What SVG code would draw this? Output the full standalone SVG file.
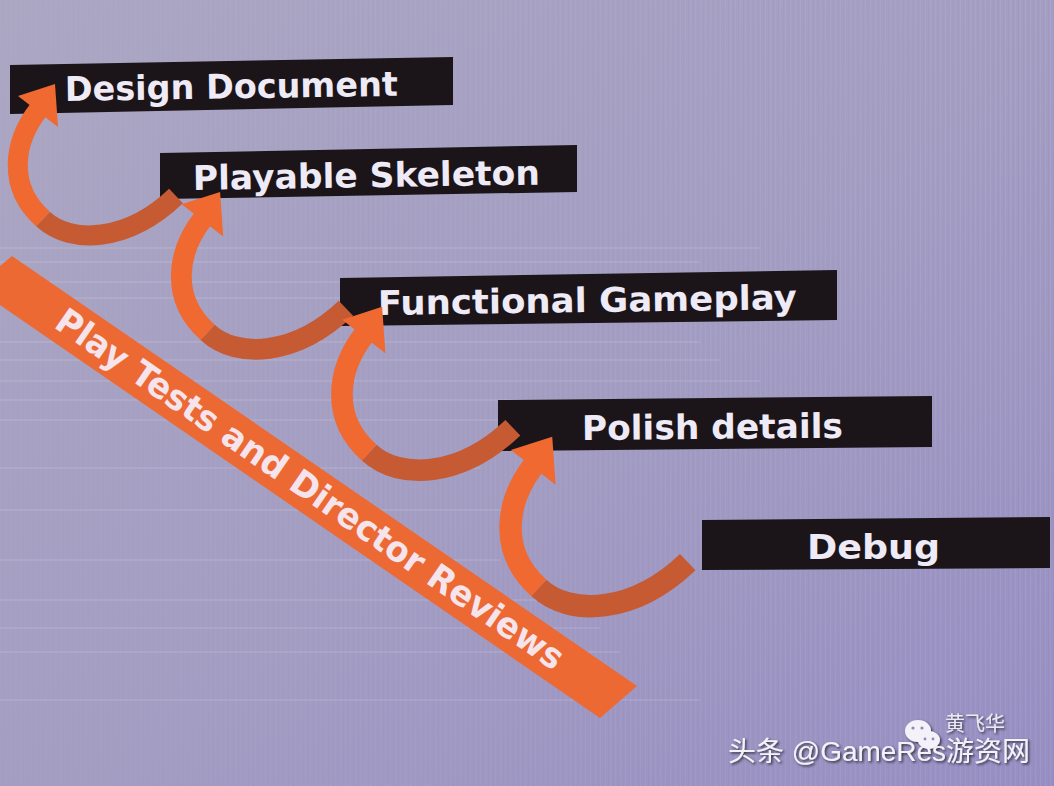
<svg xmlns="http://www.w3.org/2000/svg" xmlns:xlink="http://www.w3.org/1999/xlink" width="1054" height="786" viewBox="0 0 1054 786">
  <defs>
    <linearGradient id="bg" x1="0" y1="0" x2="1" y2="1">
      <stop offset="0" stop-color="#aba7c3"/>
      <stop offset="0.55" stop-color="#a39dc3"/>
      <stop offset="1" stop-color="#978fc3"/>
    </linearGradient>
    <pattern id="vlines" width="5" height="40" patternUnits="userSpaceOnUse">
      <rect x="0" y="0" width="1" height="40" fill="#ffffff" opacity="0.06"/>
      <rect x="3" y="0" width="1" height="40" fill="#4a4280" opacity="0.04"/>
    </pattern>
    <linearGradient id="texfade" x1="0" y1="0" x2="1" y2="0">
      <stop offset="0" stop-color="#fff" stop-opacity="0.2"/>
      <stop offset="1" stop-color="#fff" stop-opacity="1"/>
    </linearGradient>
    <mask id="texmask">
      <rect x="0" y="0" width="1054" height="786" fill="url(#texfade)"/>
    </mask>
    <filter id="shadow" x="-10%" y="-30%" width="120%" height="160%">
      <feDropShadow dx="1.5" dy="1.5" stdDeviation="0.8" flood-color="#1d1a2a" flood-opacity="0.85"/>
    </filter>
    <g id="arrow">
      <path class="dark" d="M-10,132 C18,158 75,155 123,109"/>
      <path class="bright" d="M-14,22 C-40,55 -46,100 -10,132"/>
      <polygon class="head" points="2,-3 -35,9 5,40"/>
    </g>
  </defs>
  <style>
    .box { fill: #1b1519; }
    .label { font-family: "DejaVu Sans", "Liberation Sans", sans-serif; font-weight: 700; font-size: 34px; fill: #eeeaf6; }
    .dark { fill: none; stroke: #c65a33; stroke-width: 20; }
    .bright { fill: none; stroke: #ef6931; stroke-width: 20; }
    .head { fill: #ef6931; }
    .scan { stroke: #ffffff; stroke-width: 2; opacity: 0.09; }
    .banner { fill: #ec6934; }
    .bannertext { font-family: "DejaVu Sans", "Liberation Sans", sans-serif; font-weight: 700; font-size: 35px; fill: #f5e4ec; }
    .wm { font-family: "Liberation Sans", "Noto Sans CJK SC", sans-serif; font-size: 27px; fill: #f4f2f8; }
    .wm2 { font-family: "Noto Sans CJK SC", sans-serif; font-size: 20px; fill: #f4f2f8; opacity: 0.9; }
  </style>

  <!-- background -->
  <rect x="0" y="0" width="1054" height="786" fill="url(#bg)"/>
  <rect x="0" y="0" width="1054" height="786" fill="url(#vlines)" mask="url(#texmask)"/>
  <g id="scanlines">
    <line class="scan" x1="0" y1="248" x2="760" y2="248"/>
    <line class="scan" x1="0" y1="262" x2="700" y2="262"/>
    <line class="scan" x1="0" y1="282" x2="640" y2="282"/>
    <line class="scan" x1="0" y1="298" x2="600" y2="298"/>
    <line class="scan" x1="0" y1="342" x2="700" y2="342"/>
    <line class="scan" x1="0" y1="360" x2="720" y2="360"/>
    <line class="scan" x1="0" y1="381" x2="760" y2="381"/>
    <line class="scan" x1="0" y1="400" x2="740" y2="400"/>
    <line class="scan" x1="0" y1="420" x2="520" y2="420"/>
    <line class="scan" x1="0" y1="468" x2="480" y2="468"/>
    <line class="scan" x1="0" y1="510" x2="520" y2="510"/>
    <line class="scan" x1="0" y1="560" x2="500" y2="560"/>
    <line class="scan" x1="0" y1="600" x2="560" y2="600"/>
    <line class="scan" x1="0" y1="628" x2="600" y2="628"/>
    <line class="scan" x1="0" y1="652" x2="620" y2="652"/>
    <line class="scan" x1="0" y1="700" x2="700" y2="700"/>
  </g>

  <!-- banner -->
  <g id="banner">
    <polygon class="banner" points="12,256 637,686 600,718 0,305 0,266"/>
    <text class="bannertext" transform="translate(310,489) rotate(34.5)" text-anchor="middle" y="12" textLength="608" lengthAdjust="spacingAndGlyphs">Play Tests and Director Reviews</text>
  </g>

  <!-- nodes -->
  <g id="node-design-document">
    <polygon class="box" points="10,65 453,57 453,105 10,114"/>
    <text class="label" x="65" y="101" transform="rotate(-0.9 65 101)" textLength="333" lengthAdjust="spacingAndGlyphs">Design Document</text>
  </g>
  <g id="node-playable-skeleton">
    <polygon class="box" points="160,153 577,145 577,192 160,199"/>
    <text class="label" x="193" y="190" transform="rotate(-0.9 193 190)" textLength="347" lengthAdjust="spacingAndGlyphs">Playable Skeleton</text>
  </g>
  <g id="node-functional-gameplay">
    <polygon class="box" points="340,278 837,270 837,320 340,326"/>
    <text class="label" x="378" y="315" transform="rotate(-0.8 378 315)" textLength="419" lengthAdjust="spacingAndGlyphs">Functional Gameplay</text>
  </g>
  <g id="node-polish-details">
    <polygon class="box" points="498,400 932,396 932,447 498,451"/>
    <text class="label" x="582" y="440" transform="rotate(-0.5 582 440)" textLength="261" lengthAdjust="spacingAndGlyphs">Polish details</text>
  </g>
  <g id="node-debug">
    <polygon class="box" points="702,520 1050,517 1050,568 702,570"/>
    <text class="label" x="807" y="559" textLength="133" lengthAdjust="spacingAndGlyphs">Debug</text>
  </g>

  <!-- connectors -->
  <g id="connectors">
    <use xlink:href="#arrow" href="#arrow" transform="translate(53,87)"/>
    <use xlink:href="#arrow" href="#arrow" transform="translate(218,195) scale(1.04)"/>
    <use xlink:href="#arrow" href="#arrow" transform="translate(380,310) scale(1.08)"/>
    <use xlink:href="#arrow" href="#arrow" transform="translate(550,440) scale(1.12)"/>
  </g>

  <!-- watermark -->
  <g id="watermark" filter="url(#shadow)">
    <g id="wechat-icon" fill="#f4f2f8">
      <ellipse cx="918" cy="731" rx="13" ry="11"/>
      <ellipse cx="929" cy="740" rx="11" ry="9"/>
      <circle cx="913" cy="728" r="1.6" fill="#8f88b8"/>
      <circle cx="922" cy="728" r="1.6" fill="#8f88b8"/>
      <circle cx="925" cy="739" r="1.4" fill="#8f88b8"/>
      <circle cx="933" cy="739" r="1.4" fill="#8f88b8"/>
    </g>
    <text class="wm2" x="945" y="731">黄飞华</text>
    <text class="wm" x="728" y="761" textLength="302" lengthAdjust="spacingAndGlyphs">头条 @GameRes游资网</text>
  </g>
</svg>
